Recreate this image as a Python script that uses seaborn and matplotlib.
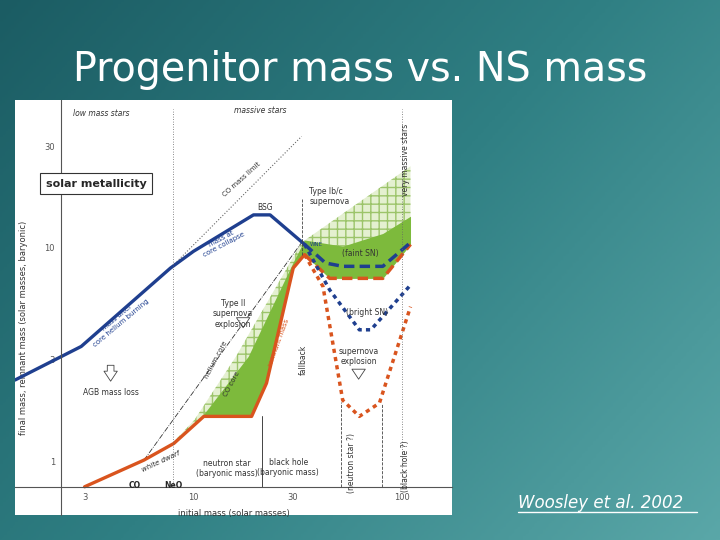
import matplotlib
matplotlib.use("Agg")
import matplotlib.pyplot as plt
import numpy as np
import seaborn as sns

sns.set_theme(style="white")
plt.rcParams["font.family"] = ["DejaVu Sans"]

# Values (initial mass, remnant mass), log-log.
core_x = [1.39, 2.89, 7.75, 10.0, 19.4, 23.3, 34.1]
core_y = [2.40, 3.45, 8.05, 9.65, 14.3, 14.3, 10.4]

rem_x = [3.0, 5.78, 8.05, 10.5, 11.2, 19.0, 22.4, 30.1, 34.1]
rem_y = [0.757, 1.01, 1.21, 1.53, 1.62, 1.62, 2.32, 8.05, 9.3]

faint_red_x = [34.1, 45, 81, 110]
faint_red_y = [9.3, 7.2, 7.2, 10.4]
bright_red_x = [34.1, 41.8, 52, 62.5, 78, 110]
bright_red_y = [9.3, 6.6, 1.93, 1.62, 1.87, 5.3]

faint_blue_x = [34.1, 43, 52, 81, 110]
faint_blue_y = [10.4, 8.5, 8.2, 8.2, 10.6]
bright_blue_x = [34.1, 45, 62.5, 71, 110]
bright_blue_y = [10.4, 6.36, 4.13, 4.13, 6.7]

co_top_x = [10.5, 18.3, 30.1, 34.1, 52, 81, 110]
co_top_y = [1.53, 3.1, 8.6, 10.9, 10.2, 11.7, 14.1]
he_top_x = [7.9, 10.1, 16.0, 33.0, 110]
he_top_y = [1.21, 1.56, 3.1, 10.6, 24.2]

co_limit_x = [7.75, 33.0]
co_limit_y = [8.05, 33.4]
dd_x = [5.78, 33.0]
dd_y = [1.01, 10.6]

fig = plt.figure(figsize=(7.2, 5.4), dpi=100)

# slide background
bg = fig.add_axes([0, 0, 1, 1])
grad = np.linspace(0, 1, 256)[None, :] * 0.6 + np.linspace(0, 1, 256)[:, None] * 0.4
bg.imshow(grad, cmap=matplotlib.colors.LinearSegmentedColormap.from_list(
    "teal", ["#1b5c63", "#2f7f83", "#5aa7a8"]), aspect="auto", extent=[0, 1, 0, 1])
bg.axis("off")
fig.text(0.5, 0.87, "Progenitor mass vs. NS mass", color="white", fontsize=28.5,
         ha="center", va="center")
fig.text(0.72, 0.06, "Woosley et al. 2002", color="white", fontsize=12,
         style="italic", ha="left")
fig.add_artist(plt.Line2D([0.72, 0.968], [0.052, 0.052], color="white", lw=1))

ax = fig.add_axes([15 / 720, 25 / 540, 437 / 720, 415 / 540])
ax.set_facecolor("white")
ax.set_xscale("log")
ax.set_yscale("log")
ax.set_xlim(1.39, 174)
ax.set_ylim(0.558, 49.5)
for s in ["top", "right"]:
    ax.spines[s].set_visible(False)
ax.spines["left"].set_position(("data", 2.3))
ax.spines["bottom"].set_position(("data", 0.755))
for s in ["left", "bottom"]:
    ax.spines[s].set_color("#555555")
    ax.spines[s].set_linewidth(0.8)
ax.set_xticks([3, 10, 30, 100], ["3", "10", "30", "100"])
ax.set_yticks([1, 3, 10, 30], ["1", "3", "10", "30"])
ax.minorticks_off()
ax.tick_params(labelsize=6, colors="#555555", length=2, pad=2)

green = "#7dba3c"
# hatched helium core region
hx = np.geomspace(7.9, 110, 200)
he_i = np.interp(np.log(hx), np.log(he_top_x), np.log(he_top_y))
lo_i = np.interp(np.log(hx), np.log(rem_x + faint_red_x[1:]), np.log(rem_y + faint_red_y[1:]))
ax.fill_between(hx, np.exp(lo_i), np.exp(he_i), facecolor="#e4f0d0", edgecolor="#9cc46a",
                hatch="++", linewidth=0)
cx = np.geomspace(10.5, 110, 200)
co_i = np.interp(np.log(cx), np.log(co_top_x), np.log(co_top_y))
lo2 = np.interp(np.log(cx), np.log(rem_x + faint_red_x[1:]), np.log(rem_y + faint_red_y[1:]))
ax.fill_between(cx, np.exp(lo2), np.exp(co_i), color=green, linewidth=0)

ax.plot(co_limit_x, co_limit_y, ls=":", color="#666666", lw=0.8)
ax.plot(dd_x, dd_y, ls="-.", color="#333333", lw=0.6)

sns.lineplot(x=core_x, y=core_y, ax=ax, color="#1f3f8f", lw=2.4, sort=False)
sns.lineplot(x=rem_x, y=rem_y, ax=ax, color="#d9541e", lw=2.4, sort=False)
ax.plot(faint_red_x, faint_red_y, color="#d9541e", lw=2.5, ls=(0, (3, 1.5)))
ax.plot(bright_red_x, bright_red_y, color="#d9541e", lw=2.5, ls=(0, (1.2, 1.2)))
ax.plot(faint_blue_x, faint_blue_y, color="#1f3f8f", lw=2.5, ls=(0, (3, 1.5)))
ax.plot(bright_blue_x, bright_blue_y, color="#1f3f8f", lw=2.5, ls=(0, (1.2, 1.2)))

# vertical separators
ax.plot([8.0, 8.0], [0.755, 45], ls=(0, (1, 2)), color="#666666", lw=0.6)
ax.plot([100, 100], [0.755, 45], ls=(0, (1, 2)), color="#666666", lw=0.6)
ax.plot([21.3, 21.3], [0.755, 1.62], color="#444444", lw=0.7)
ax.plot([33.0, 33.0], [9.3, 17], ls="--", color="#444444", lw=0.6)
ax.plot([51, 51], [0.755, 1.9], ls="--", color="#444444", lw=0.6)
ax.plot([80, 80], [0.755, 1.85], ls="--", color="#444444", lw=0.6)

# hollow arrows
arrow = dict(arrowstyle="simple,head_width=0.8,head_length=0.6,tail_width=0.4",
             facecolor="white", edgecolor="#444444", lw=0.6)
ax.annotate("", xy=(4.0, 2.3), xytext=(4.0, 2.9), arrowprops=arrow)
ax.annotate("", xy=(62, 2.35), xytext=(62, 2.75), arrowprops=arrow)
ax.annotate("", xy=(17.3, 4.1), xytext=(17.3, 4.8), arrowprops=arrow)

t = dict(fontsize=5.5, color="#333333", ha="center", va="center")
ax.text(3.6, 43, "low mass stars", style="italic", **t)
ax.text(21, 44, "massive stars", style="italic", **t)
ax.text(3.4, 20, "solar metallicity", fontsize=8, weight="bold", ha="center",
        va="center", bbox=dict(facecolor="white", edgecolor="#333333", lw=0.8))
ax.text(36, 17.5, "Type Ib/c\nsupernova", ha="left", **{k: v for k, v in t.items() if k != "ha"})
ax.text(22, 15.5, "BSG", **t)
ax.text(36, 10.4, "WNE", fontsize=4, color="#1f3f8f", ha="left", va="center")
ax.text(63, 9.4, "(faint SN)", **t)
ax.text(68, 5.0, "(bright SN)", **t)
ax.text(62, 3.1, "supernova\nexplosion", **t)
ax.text(15.5, 4.9, "Type II\nsupernova\nexplosion", **t)
ax.text(4.0, 2.1, "AGB mass loss", **t)
ax.text(14.5, 0.92, "neutron star\n(baryonic mass)", **t)
ax.text(28.5, 0.93, "black hole\n(baryonic mass)", **t)
ax.text(33.5, 3.0, "fallback", rotation=90, **t)
ax.text(57, 0.98, "(neutron star ?)", rotation=90, **t)
ax.text(104, 0.95, "(black hole ?)", rotation=90, **t)
ax.text(104, 26, "very massive stars", rotation=90, **t)
ax.text(5.2, 0.77, "CO", fontsize=5.5, weight="bold", ha="center", va="center")
ax.text(8.0, 0.77, "NeO", fontsize=5.5, weight="bold", ha="center", va="center")
ax.text(7.0, 1.0, "white dwarf", rotation=25, fontsize=5, style="italic", ha="center", va="center")
ax.text(4.4, 4.6, "mass after\ncore helium burning", rotation=40, fontsize=5,
        color="#1f3f8f", ha="center", va="center")
ax.text(13.8, 10.7, "mass at\ncore collapse", rotation=28, fontsize=5,
        color="#1f3f8f", ha="center", va="center")
ax.text(17, 21, "CO mass limit", rotation=42, fontsize=5, color="#333333", ha="center", va="center")
ax.text(12.8, 3.0, "helium core", rotation=62, fontsize=5, color="#333333", ha="center", va="center")
ax.text(15.3, 2.3, "CO core", rotation=62, fontsize=5, color="#333333", ha="center", va="center")
ax.text(25.5, 3.6, "remnant mass", rotation=70, fontsize=5, color="#d9541e", ha="center", va="center")
ax.set_xlabel("initial mass (solar masses)", fontsize=6, color="#333333", labelpad=0)
ax.set_ylabel("final mass, remnant mass (solar masses, baryonic)", fontsize=6, color="#333333")
ax.yaxis.set_label_coords(0.03, 0.45)
ax.xaxis.set_label_coords(0.5, 0.015)

fig.savefig("out.png", dpi=100)
